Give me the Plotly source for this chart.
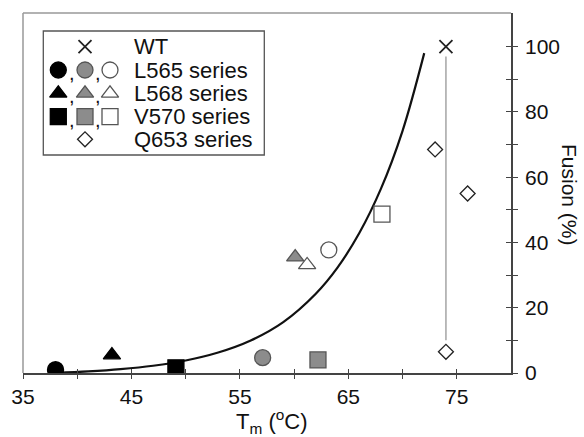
import plotly.graph_objects as go

# ---- data ----
wt_x = [74]
wt_y = [100]
wt_range_x = [74, 74]
wt_range_y = [97, 10]
q653_x = [73, 76, 74]
q653_y = [68.5, 55, 6.5]
l565_x = [38, 57.1, 63.2]
l565_y = [1, 4.7, 37.7]
l568_x = [43.2, 60.1, 61.2]
l568_y = [5.5, 35.5, 33.1]
v570_x = [49.1, 62.2, 68.1]
v570_y = [1.6, 4.0, 48.7]
fit_x = [38, 41, 44, 47, 50, 53, 56, 59, 62, 64, 66, 68, 70, 72]
fit_y = [0, 0.47, 1.17, 2.23, 3.84, 6.28, 9.97, 15.6, 24.3, 32.3, 42.8, 56.4, 74.2, 98.0]
x_ticks = [35, 45, 55, 65, 75]
y_ticks = [0, 20, 40, 60, 80, 100]
legend_labels = ["WT", "L565 series", "L568 series", "V570 series", "Q653 series"]

# ---- styling ----
FONT = "Liberation Sans, Arial, Helvetica, sans-serif"
W, H = 584, 437
L, R, T, B = 23, 511, 13, 373
fills = ["#000000", "#8c8c8c", "#ffffff"]
edges = ["#000000", "#555555", "#555555"]
AX = "#444444"

def pxx(p):
    return (p - L) / (R - L)

def pxy(p):
    return (B - p) / (B - T)

fig = go.Figure()

# range line for WT
fig.add_trace(go.Scatter(x=wt_range_x, y=wt_range_y, mode="lines",
                         line=dict(color="#aaaaaa", width=1.6), showlegend=False, hoverinfo="skip"))
# fitted curve
fig.add_trace(go.Scatter(x=fit_x, y=fit_y, mode="lines", line_shape="spline",
                         line=dict(color="#111111", width=2.2), showlegend=False))

def series(x, y, symbol, size):
    fig.add_trace(go.Scatter(x=x, y=y, mode="markers", showlegend=False,
                             marker=dict(symbol=symbol, size=size, color=fills,
                                         line=dict(color=edges, width=1.3))))

series(l565_x, l565_y, "circle", 16)
series(l568_x, l568_y, "triangle-up", 15)
series(v570_x, v570_y, "square", 16)
fig.add_trace(go.Scatter(x=q653_x, y=q653_y, mode="markers", showlegend=False,
                         marker=dict(symbol="diamond", size=11.5, color="white",
                                     line=dict(color="#222222", width=1.3))))
fig.add_trace(go.Scatter(x=wt_x, y=wt_y, mode="markers", showlegend=False,
                         marker=dict(symbol="x-thin-open", size=13, color="#222222",
                                     line=dict(color="#222222", width=1.8))))

# ---- hand-built legend on a pixel-coordinate overlay axis ----
row_y = [46.7, 70, 93.3, 116.7, 139.3]
sym_x = [58.3, 85, 110]
comma_x = [71.5, 97.5]
leg_syms = [("circle", 16), ("triangle-up", 15), ("square", 16)]
for i, (sym, sz) in enumerate(leg_syms):
    yy = row_y[i + 1]
    fig.add_trace(go.Scatter(x=sym_x, y=[yy] * 3, xaxis="x2", yaxis="y2", mode="markers",
                             showlegend=False, hoverinfo="skip",
                             marker=dict(symbol=sym, size=sz, color=fills,
                                         line=dict(color=edges, width=1.3))))
    for cx in comma_x:
        fig.add_annotation(x=cx, y=yy + 3, xref="x2", yref="y2", text=",", showarrow=False,
                           font=dict(family=FONT, size=20, color="#111"), xanchor="center", yanchor="middle")
fig.add_trace(go.Scatter(x=[85], y=[row_y[0]], xaxis="x2", yaxis="y2", mode="markers",
                         showlegend=False, hoverinfo="skip",
                         marker=dict(symbol="x-thin-open", size=13, color="#222",
                                     line=dict(color="#222", width=1.8))))
fig.add_trace(go.Scatter(x=[85], y=[row_y[4]], xaxis="x2", yaxis="y2", mode="markers",
                         showlegend=False, hoverinfo="skip",
                         marker=dict(symbol="diamond", size=11.5, color="white",
                                     line=dict(color="#222", width=1.3))))
for lab, yy in zip(legend_labels, row_y):
    fig.add_annotation(x=132, y=yy, xref="x2", yref="y2", text=lab, showarrow=False,
                       font=dict(family=FONT, size=22, color="#111"), xanchor="left", yanchor="middle")
fig.add_shape(type="rect", xref="x2", yref="y2", x0=43.3, x1=264.3, y0=31, y1=155,
              line=dict(color="#555555", width=1.3), fillcolor="rgba(0,0,0,0)")

# invisible trace to realise tick-overlay axes
fig.add_trace(go.Scatter(x=[None], y=[None], xaxis="x3", yaxis="y3", showlegend=False))

# frame lines (left, top) in gray
fig.add_shape(type="line", xref="paper", yref="paper", x0=0, x1=0, y0=0, y1=1,
              line=dict(color="#999999", width=1.5))
fig.add_shape(type="line", xref="paper", yref="paper", x0=0, x1=1, y0=1, y1=1,
              line=dict(color="#999999", width=1.5))

# axis titles
fig.add_annotation(x=pxx(272), y=pxy(421), xref="paper", yref="paper",
                   text="T<sub>m</sub> (<sup>o</sup>C)", showarrow=False,
                   font=dict(family=FONT, size=22, color="#111"), xanchor="center", yanchor="middle")
fig.add_annotation(x=pxx(570), y=pxy(195), xref="paper", yref="paper",
                   text="Fusion (%)", textangle=90, showarrow=False,
                   font=dict(family=FONT, size=21, color="#111"), xanchor="center", yanchor="middle")

xr = [35, 80]
yr = [0, 110.3]
common = dict(automargin=False, showgrid=False, zeroline=False)
fig.update_layout(
    width=W, height=H,
    margin=dict(l=L, r=W - R, t=T, b=H - B, pad=0, autoexpand=False),
    paper_bgcolor="white", plot_bgcolor="white",
    font=dict(family=FONT, size=20, color="#111"),
    showlegend=False,
    xaxis=dict(range=xr, tickvals=x_ticks, ticks="outside", ticklen=4, tickwidth=1.4,
               tickcolor=AX, showline=True, linecolor=AX, linewidth=1.6,
               tickfont=dict(family=FONT, size=21, color="#111"),
               ticklabelstandoff=0,
               minor=dict(tickvals=[40, 50, 60, 70], ticks="outside", ticklen=4,
                          tickwidth=1.4, tickcolor=AX), **common),
    yaxis=dict(range=yr, side="right", tickvals=y_ticks, ticks="outside", ticklen=5, tickwidth=1.4,
               tickcolor=AX, showline=True, linecolor=AX, linewidth=1.6,
               tickfont=dict(family=FONT, size=21, color="#111"),
               ticklabelstandoff=3,
               minor=dict(tickvals=[10, 30, 50, 70, 90], ticks="outside", ticklen=5,
                          tickwidth=1.4, tickcolor=AX), **common),
    xaxis3=dict(range=xr, overlaying="x", tickvals=x_ticks, ticks="inside", ticklen=4,
                tickwidth=1.4, tickcolor=AX, showticklabels=False, showline=False,
                minor=dict(tickvals=[40, 50, 60, 70], ticks="inside", ticklen=4,
                           tickwidth=1.4, tickcolor=AX), **common),
    yaxis3=dict(range=yr, overlaying="y", side="right", tickvals=y_ticks, ticks="inside", ticklen=5,
                tickwidth=1.4, tickcolor=AX, showticklabels=False, showline=False,
                minor=dict(tickvals=[10, 30, 50, 70, 90], ticks="inside", ticklen=5,
                           tickwidth=1.4, tickcolor=AX), **common),
    xaxis2=dict(range=[L, R], overlaying="x", visible=False, **common),
    yaxis2=dict(range=[B, T], overlaying="y", visible=False, **common),
)

fig.write_html("out.html", config={"displayModeBar": False},
               post_script="document.body.style.margin='0';")
